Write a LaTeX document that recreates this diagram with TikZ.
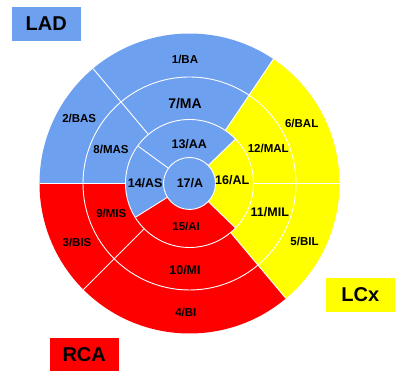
\documentclass[tikz,border=0pt]{standalone}
\usepackage{fontspec}
\setmainfont{Liberation Sans}

\definecolor{ladblue}{RGB}{110,160,240}
\definecolor{rcared}{RGB}{255,0,0}
\definecolor{lcxyellow}{RGB}{255,255,0}

% one ring segment: colour, from angle, to angle, inner radius, outer radius
\newcommand{\segfill}[5]{%
  \fill[#1] (#2:#4pt) arc[start angle=#2, end angle=#3, radius=#4pt]
    -- (#3:#5pt) arc[start angle=#3, end angle=#2, radius=#5pt] -- cycle;}

\tikzset{
  seglabel/.style={font=\bfseries\fontsize{11.5}{12}\selectfont, inner sep=0pt},
  seglabelm/.style={font=\bfseries\fontsize{12.5}{13}\selectfont, inner sep=0pt},
  seglabelb/.style={font=\bfseries\fontsize{14}{15}\selectfont, inner sep=0pt},
  artery/.style={minimum width=69pt, minimum height=33.4pt, inner sep=0pt,
    font=\bfseries\fontsize{20}{22}\selectfont},
  divider/.style={white, line width=0.9pt}
}

\begin{document}
\begin{tikzpicture}[x=1pt,y=1pt]
\useasboundingbox (0,0) rectangle (400,379);

\begin{scope}[shift={(189.5,195.5)}]
% basal ring
\segfill{lcxyellow}{0}{56}{106.5}{150}
\segfill{ladblue}{56}{130}{106.5}{150}
\segfill{ladblue}{130}{180}{106.5}{150}
\segfill{rcared}{180}{225}{106.5}{150}
\segfill{rcared}{225}{310}{106.5}{150}
\segfill{lcxyellow}{310}{360}{106.5}{150}
% mid ring
\segfill{lcxyellow}{0}{56}{64}{106.5}
\segfill{ladblue}{56}{130}{64}{106.5}
\segfill{ladblue}{130}{180}{64}{106.5}
\segfill{rcared}{180}{225}{64}{106.5}
\segfill{rcared}{225}{310}{64}{106.5}
\segfill{lcxyellow}{310}{360}{64}{106.5}
% apical ring
\segfill{lcxyellow}{-44}{44}{26}{64}
\segfill{ladblue}{44}{144}{26}{64}
\segfill{ladblue}{144}{212}{26}{64}
\segfill{rcared}{212}{316}{26}{64}
% apex
\fill[ladblue] (0,0) circle[radius=26pt];

\draw[divider] (0,0) circle[radius=106.5pt];
\draw[divider] (0,0) circle[radius=64pt];
\draw[divider] (0,0) circle[radius=26pt];
\foreach \a in {0,56,130,180,225,310}
  \draw[divider] (\a:64pt) -- (\a:150pt);
\foreach \a in {44,144,212,316}
  \draw[divider] (\a:26pt) -- (\a:64pt);
\end{scope}

\node[seglabel] (s1) at (185,320) {1/BA};
\node[seglabel] (s2) at (79.2,260.7) {2/BAS};
\node[seglabel] (s3) at (77,136.7) {3/BIS};
\node[seglabel] (s4) at (185.8,66.7) {4/BI};
\node[seglabel] (s5) at (304.5,137.3) {5/BIL};
\node[seglabel] (s6) at (301.7,255.7) {6/BAL};
\node[seglabelb] (s7) at (185,275.7) {7/MA};
\node[seglabel] (s8) at (111,230) {8/MAS};
\node[seglabel] (s9) at (111.3,165.7) {9/MIS};
\node[seglabelm] (s10) at (185,109.3) {10/MI};
\node[seglabelm] (s11) at (269.8,167.3) {11/MIL};
\node[seglabel] (s12) at (268.3,230.7) {12/MAL};
\node[seglabelm] (s13) at (189.3,234.7) {13/AA};
\node[seglabelm] (s14) at (145.2,196.3) {14/AS};
\node[seglabel] (s15) at (186.2,152.3) {15/AI};
\node[seglabelm] (s16) at (232.2,198.7) {16/AL};
\node[seglabelm] (s17) at (190,195.7) {17/A};

\node[artery, fill=ladblue] (lad) at (46.2,355) {LAD};
\node[artery, fill=lcxyellow] (lcx) at (360.3,84) {LCx};
\node[artery, fill=rcared] (rca) at (84.2,24.7) {RCA};
\end{tikzpicture}
\end{document}
